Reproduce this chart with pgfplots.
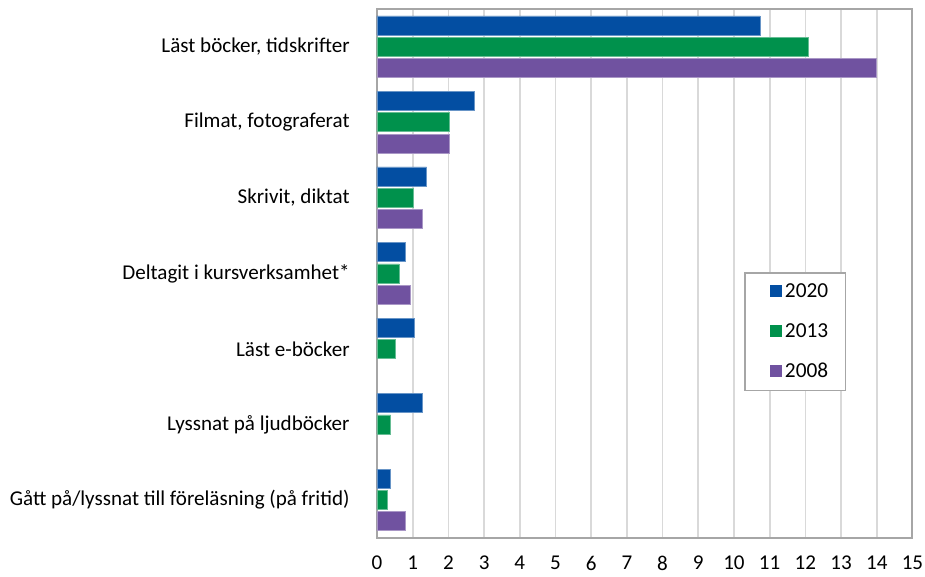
\documentclass[border=0pt]{standalone}
\usepackage{fontspec}
\setmainfont{Carlito}
\usepackage{pgfplots}
\pgfplotsset{compat=1.18}

\definecolor{c2020}{RGB}{3,78,162}
\definecolor{c2013}{RGB}{0,145,76}
\definecolor{c2008}{RGB}{112,82,160}
\definecolor{framegray}{RGB}{166,166,166}
\definecolor{gridgray}{RGB}{217,217,217}

\pgfplotsset{
  legsq/.style={legend image code/.code={\path (0pt,0pt); \fill[##1,draw=none] (8pt,-4.5pt) rectangle (17pt,4.5pt);}}
}

\begin{document}
\begin{tikzpicture}
\useasboundingbox (-282.75pt,-29.5pt) rectangle (411pt,403.25pt);
\begin{axis}[
    at={(0,0)}, anchor=south west,
    scale only axis,
    width=401.6pt, height=396.5pt,
    xbar,
    bar width=14.25pt,
    xmin=0, xmax=15,
    ymin=-0.5, ymax=6.5,
    y dir=reverse,
    xtick={0,1,...,15},
    ytick={0,1,2,3,4,5,6},
    yticklabels={{Läst böcker, tidskrifter}, {Filmat, fotograferat}, {Skrivit, diktat},
        Deltagit i kursverksamhet*, Läst e-böcker, Lyssnat på ljudböcker,
        Gått på/lyssnat till föreläsning (på fritid)},
    major tick length=0pt,
    xmajorgrids,
    grid style={gridgray, line width=1.3pt},
    axis line style={framegray, line width=1.5pt},
    tick label style={font=\fontsize{15.8}{19}\selectfont},
    /pgf/number format/assume math mode=true,
    xticklabel style={inner ysep=1pt, yshift=-12.5pt},
    yticklabel style={xshift=-17pt},
    legend style={at={(0.685,0.5026)}, anchor=north west, draw=framegray,
        line width=1.3pt, font=\fontsize{16}{19}\selectfont,
        inner xsep=11pt, inner ysep=6pt, row sep=14pt},
    legend cell align=left,
]
\addplot[fill=c2020, draw=c2020!60!white, line width=0.5pt, bar shift=16pt, legsq]
  coordinates {(10.73,0) (2.74,1) (1.39,2) (0.80,3) (1.05,4) (1.27,5) (0.38,6)};
\addplot[fill=c2013, draw=c2013!60!white, line width=0.5pt, bar shift=0pt, legsq]
  coordinates {(12.09,0) (2.03,1) (1.02,2) (0.62,3) (0.50,4) (0.38,5) (0.29,6)};
\addplot[fill=c2008, draw=c2008!60!white, line width=0.5pt, bar shift=-16pt, legsq]
  coordinates {(13.98,0) (2.04,1) (1.26,2) (0.94,3) (0.79,6)};
\legend{2020,2013,2008}
\end{axis}
\end{tikzpicture}
\end{document}
